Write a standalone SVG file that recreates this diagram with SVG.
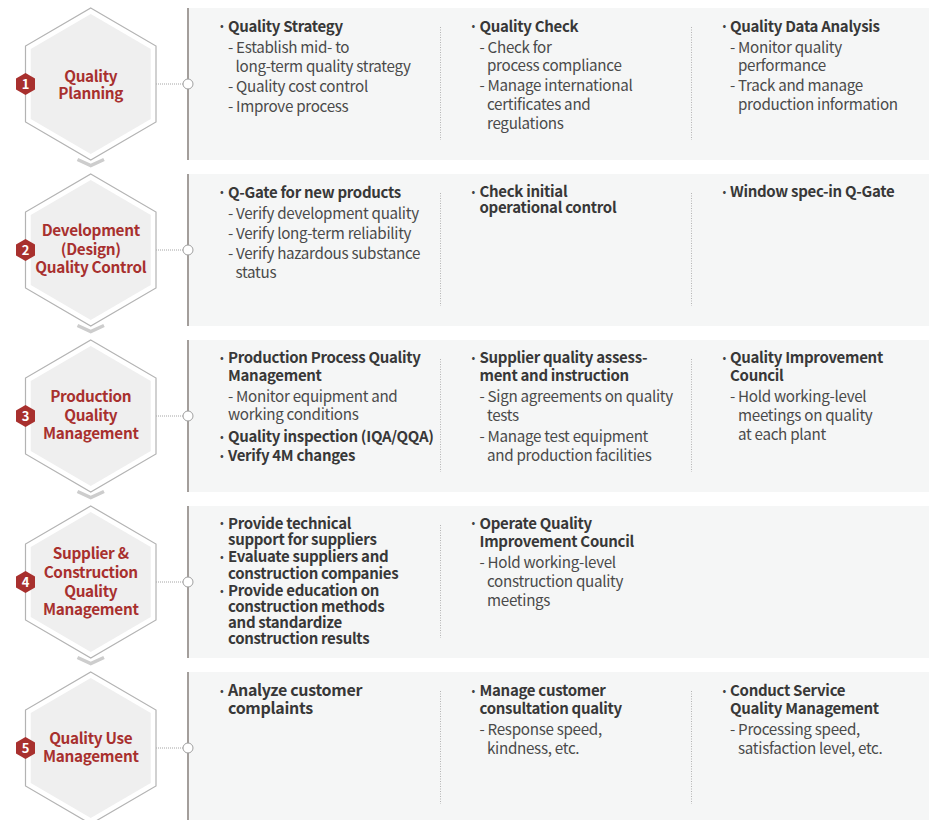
<svg xmlns="http://www.w3.org/2000/svg" width="929" height="820" viewBox="0 0 929 820">
<style>
text{font-family:"Noto Sans CJK KR","Noto Sans",sans-serif}
.h{font-size:15px;font-weight:700;fill:#383838;letter-spacing:-0.3px}
.t{font-size:15.2px;font-weight:400;fill:#4a4a4a;letter-spacing:-0.3px}
.b{font-size:11px;fill:#444}
.ht{font-size:15.3px;font-weight:700;fill:#a8302e;text-anchor:middle;letter-spacing:-0.3px}
.num{font-size:13px;font-weight:700;fill:#fff;text-anchor:middle}
.panel{fill:#f5f6f6}
.vline{stroke:#a39e9b;stroke-width:2}
.div{stroke:#b4b4b4;stroke-width:1;stroke-dasharray:1 1.5}
.dot{stroke:#9a9a9a;stroke-width:0.9;stroke-dasharray:1 1}
.circ{fill:#fff;stroke:#a0a0a0;stroke-width:1}
.chev{fill:none;stroke:#cdcdcd;stroke-width:3.5}
.hexo{fill:#fff;stroke:#b3b3b3;stroke-width:1.2}
.hexi{fill:#efefef}
.badge{fill:#a8302e}
</style>
<defs>
<polygon id="hexOuter" points="0,-76 65.25,-38 65.25,38 0,76 -65.25,38 -65.25,-38"/>
<polygon id="hexInner" points="0,-70 60,-35 60,35 0,70 -60,35 -60,-35"/>
<polygon id="badgeHex" points="0,-11 9.5,-5.5 9.5,5.5 0,11 -9.5,5.5 -9.5,-5.5"/>
</defs>

<!-- panels -->
<g id="panel-1">
<rect class="panel" x="188" y="8" width="741" height="152"/>
<line class="div" x1="440.5" y1="27" x2="440.5" y2="140"/>
<line class="div" x1="691.5" y1="27" x2="691.5" y2="140"/>
<text class="b" x="220" y="30">•</text>
<text class="h" x="228" y="31.5">Quality Strategy</text>
<text class="t" x="228" y="52.5">- Establish mid- to</text>
<text class="t" x="235.5" y="71.5">long-term quality strategy</text>
<text class="t" x="228" y="91.5">- Quality cost control</text>
<text class="t" x="228" y="111.5">- Improve process</text>
<text class="b" x="471.5" y="30">•</text>
<text class="h" x="479.5" y="31.5">Quality Check</text>
<text class="t" x="479.5" y="52.5">- Check for</text>
<text class="t" x="487" y="71">process compliance</text>
<text class="t" x="479.5" y="91">- Manage international</text>
<text class="t" x="487" y="110">certificates and</text>
<text class="t" x="487" y="129">regulations</text>
<text class="b" x="722.5" y="30">•</text>
<text class="h" x="730" y="31.5">Quality Data Analysis</text>
<text class="t" x="730" y="52.5">- Monitor quality</text>
<text class="t" x="738" y="71">performance</text>
<text class="t" x="730" y="91">- Track and manage</text>
<text class="t" x="738" y="110">production information</text>
</g>

<g id="panel-2">
<rect class="panel" x="188" y="174" width="741" height="152"/>
<line class="div" x1="440.5" y1="193" x2="440.5" y2="306"/>
<line class="div" x1="691.5" y1="193" x2="691.5" y2="306"/>
<text class="b" x="220" y="196">•</text>
<text class="h" x="228" y="197.5">Q-Gate for new products</text>
<text class="t" x="228" y="218.5">- Verify development quality</text>
<text class="t" x="228" y="239">- Verify long-term reliability</text>
<text class="t" x="228" y="259">- Verify hazardous substance</text>
<text class="t" x="235.5" y="278">status</text>
<text class="b" x="471.5" y="196">•</text>
<text class="h" x="479.5" y="197">Check initial</text>
<text class="h" x="479.5" y="213">operational control</text>
<text class="b" x="722.5" y="196">•</text>
<text class="h" x="730" y="197">Window spec-in Q-Gate</text>
</g>

<g id="panel-3">
<rect class="panel" x="188" y="340" width="741" height="152"/>
<line class="div" x1="440.5" y1="359" x2="440.5" y2="472"/>
<line class="div" x1="691.5" y1="359" x2="691.5" y2="472"/>
<text class="b" x="220" y="362">•</text>
<text class="h" x="228" y="363">Production Process Quality</text>
<text class="h" x="228" y="381">Management</text>
<text class="t" x="228" y="401.5">- Monitor equipment and</text>
<text class="t" x="228" y="420">working conditions</text>
<text class="b" x="220" y="440.5">•</text>
<text class="h" x="228" y="441.5">Quality inspection (IQA/QQA)</text>
<text class="b" x="220" y="460">•</text>
<text class="h" x="228" y="461">Verify 4M changes</text>
<text class="b" x="471.5" y="362">•</text>
<text class="h" x="479.5" y="363">Supplier quality assess-</text>
<text class="h" x="479.5" y="381">ment and instruction</text>
<text class="t" x="479.5" y="401.5">- Sign agreements on quality</text>
<text class="t" x="487" y="420.5">tests</text>
<text class="t" x="479.5" y="441.5">- Manage test equipment</text>
<text class="t" x="487" y="460.5">and production facilities</text>
<text class="b" x="722.5" y="362">•</text>
<text class="h" x="730" y="363">Quality Improvement</text>
<text class="h" x="730" y="381">Council</text>
<text class="t" x="730" y="401.5">- Hold working-level</text>
<text class="t" x="738" y="420.5">meetings on quality</text>
<text class="t" x="738" y="439.5">at each plant</text>
</g>

<g id="panel-4">
<rect class="panel" x="188" y="506" width="741" height="152"/>
<line class="div" x1="440.5" y1="525" x2="440.5" y2="638"/>
<text class="b" x="220" y="527">•</text>
<text class="h" x="228" y="528.5">Provide technical</text>
<text class="h" x="228" y="544.5">support for suppliers</text>
<text class="b" x="220" y="561">•</text>
<text class="h" x="228" y="562">Evaluate suppliers and</text>
<text class="h" x="228" y="578.5">construction companies</text>
<text class="b" x="220" y="595">•</text>
<text class="h" x="228" y="596">Provide education on</text>
<text class="h" x="228" y="612">construction methods</text>
<text class="h" x="228" y="628">and standardize</text>
<text class="h" x="228" y="644">construction results</text>
<text class="b" x="471.5" y="527">•</text>
<text class="h" x="479.5" y="528.5">Operate Quality</text>
<text class="h" x="479.5" y="546.5">Improvement Council</text>
<text class="t" x="479.5" y="568">- Hold working-level</text>
<text class="t" x="487" y="587">construction quality</text>
<text class="t" x="487" y="606">meetings</text>
</g>

<g id="panel-5">
<rect class="panel" x="188" y="672" width="741" height="152"/>
<line class="div" x1="440.5" y1="691" x2="440.5" y2="804"/>
<line class="div" x1="691.5" y1="691" x2="691.5" y2="804"/>
<text class="b" x="220" y="695">•</text>
<text class="h" x="228" y="696" style="font-size:16px">Analyze customer</text>
<text class="h" x="228" y="714" style="font-size:16px">complaints</text>
<text class="b" x="471.5" y="695">•</text>
<text class="h" x="479.5" y="696">Manage customer</text>
<text class="h" x="479.5" y="714">consultation quality</text>
<text class="t" x="479.5" y="735">- Response speed,</text>
<text class="t" x="487" y="753.5">kindness, etc.</text>
<text class="b" x="722.5" y="695">•</text>
<text class="h" x="730" y="696">Conduct Service</text>
<text class="h" x="730" y="714">Quality Management</text>
<text class="t" x="730" y="735">- Processing speed,</text>
<text class="t" x="738" y="753.5">satisfaction level, etc.</text>
</g>

<!-- connectors -->
<g id="connectors">
<line class="vline" x1="188" y1="8" x2="188" y2="160"/>
<line class="vline" x1="188" y1="174" x2="188" y2="326"/>
<line class="vline" x1="188" y1="340" x2="188" y2="492"/>
<line class="vline" x1="188" y1="506" x2="188" y2="658"/>
<line class="vline" x1="188" y1="672" x2="188" y2="824"/>
<line class="dot" x1="156" y1="84" x2="183" y2="84"/>
<line class="dot" x1="156" y1="250" x2="183" y2="250"/>
<line class="dot" x1="156" y1="416" x2="183" y2="416"/>
<line class="dot" x1="156" y1="582" x2="183" y2="582"/>
<line class="dot" x1="156" y1="748" x2="183" y2="748"/>
<circle class="circ" cx="188" cy="84" r="5"/>
<circle class="circ" cx="188" cy="250" r="5"/>
<circle class="circ" cx="188" cy="416" r="5"/>
<circle class="circ" cx="188" cy="582" r="5"/>
<circle class="circ" cx="188" cy="748" r="5"/>
<polyline class="chev" points="77.5,159.5 90.75,165.5 104,159.5"/>
<polyline class="chev" points="77.5,325.5 90.75,331.5 104,325.5"/>
<polyline class="chev" points="77.5,491.5 90.75,497.5 104,491.5"/>
<polyline class="chev" points="77.5,657.5 90.75,663.5 104,657.5"/>
</g>

<!-- nodes -->
<g id="node-1" transform="translate(90.75,84)">
<use href="#hexOuter" class="hexo"/>
<use href="#hexInner" class="hexi"/>
<use href="#badgeHex" class="badge" x="-65.25"/>
<text class="num" x="-65.25" y="4.5">1</text>
<text class="ht" x="0" y="-2.5">Quality</text>
<text class="ht" x="0" y="15">Planning</text>
</g>
<g id="node-2" transform="translate(90.75,250)">
<use href="#hexOuter" class="hexo"/>
<use href="#hexInner" class="hexi"/>
<use href="#badgeHex" class="badge" x="-65.25"/>
<text class="num" x="-65.25" y="4.5">2</text>
<text class="ht" x="0" y="-14">Development</text>
<text class="ht" x="0" y="4.5">(Design)</text>
<text class="ht" x="0" y="23">Quality Control</text>
</g>
<g id="node-3" transform="translate(90.75,416)">
<use href="#hexOuter" class="hexo"/>
<use href="#hexInner" class="hexi"/>
<use href="#badgeHex" class="badge" x="-65.25"/>
<text class="num" x="-65.25" y="4.5">3</text>
<text class="ht" x="0" y="-14">Production</text>
<text class="ht" x="0" y="4.5">Quality</text>
<text class="ht" x="0" y="23">Management</text>
</g>
<g id="node-4" transform="translate(90.75,582)">
<use href="#hexOuter" class="hexo"/>
<use href="#hexInner" class="hexi"/>
<use href="#badgeHex" class="badge" x="-65.25"/>
<text class="num" x="-65.25" y="4.5">4</text>
<text class="ht" x="0" y="-23">Supplier &amp;</text>
<text class="ht" x="0" y="-4">Construction</text>
<text class="ht" x="0" y="14.5">Quality</text>
<text class="ht" x="0" y="33">Management</text>
</g>
<g id="node-5" transform="translate(90.75,748)">
<use href="#hexOuter" class="hexo"/>
<use href="#hexInner" class="hexi"/>
<use href="#badgeHex" class="badge" x="-65.25"/>
<text class="num" x="-65.25" y="4.5">5</text>
<text class="ht" x="0" y="-4.5">Quality Use</text>
<text class="ht" x="0" y="14">Management</text>
</g>
</svg>
